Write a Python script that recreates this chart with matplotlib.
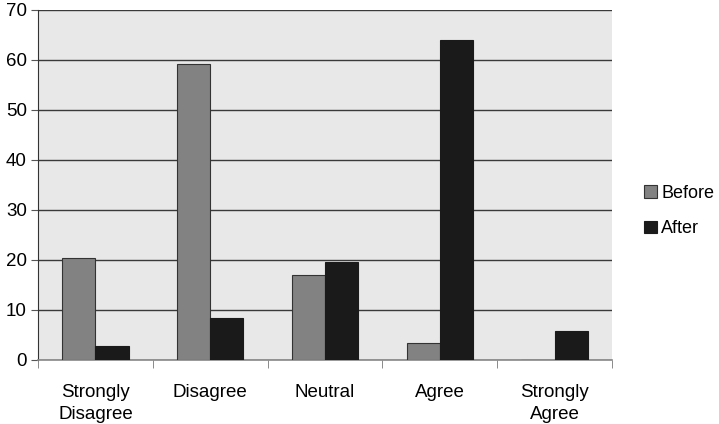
import numpy as np
import matplotlib.pyplot as plt

plt.rcParams['font.family'] = ['Liberation Sans', 'DejaVu Sans']

categories = ["Strongly\nDisagree", "Disagree", "Neutral", "Agree", "Strongly\nAgree"]
before = [20.5, 59.3, 17.0, 3.4, 0.0]
after = [2.8, 8.5, 19.6, 64.0, 5.8]
yticks = [0, 10, 20, 30, 40, 50, 60, 70]

fs = 13.5

fig = plt.figure(figsize=(7.19, 4.24), dpi=100)
ax = fig.add_axes([38 / 719, 1 - 360 / 424, (612 - 38) / 719, 350 / 424])
ax.set_facecolor('#e8e8e8')

x = np.arange(len(categories))
w = 0.29
ax.bar(x - w / 2, before, w, color='#828282', edgecolor='#333333', linewidth=0.8,
       label='Before', zorder=3)
ax.bar(x + w / 2, after, w, color='#1a1a1a', edgecolor='#1a1a1a', linewidth=0.8,
       label='After', zorder=3)

ax.set_xlim(-0.5, len(categories) - 0.5)
ax.set_ylim(0, 70)
ax.set_yticks(yticks)
ax.yaxis.grid(True, color='#3a3a3a', linewidth=1.0, zorder=1)
ax.tick_params(axis='y', labelsize=fs, length=5, color='#555555', pad=3)

# category labels centered, tick marks at boundaries
ax.set_xticks(x)
ax.set_xticklabels(categories, fontsize=fs, linespacing=1.45)
ax.tick_params(axis='x', length=0, pad=17)
ax.set_xticks(np.arange(-0.5, len(categories)), minor=True)
ax.tick_params(axis='x', which='minor', length=6, color='#777777')

for s in ['top', 'right']:
    ax.spines[s].set_visible(False)
ax.spines['left'].set_color('#333333')
ax.spines['bottom'].set_color('#888888')
ax.spines['bottom'].set_linewidth(1.2)

fig.legend(loc='center left', bbox_to_anchor=(644 / 719, 1 - 211 / 424), frameon=False,
           fontsize=13, handlelength=0.7, handleheight=0.7, handletextpad=0.25,
           labelspacing=1.05, borderpad=0, borderaxespad=0)

fig.savefig('out.png', dpi=100)
